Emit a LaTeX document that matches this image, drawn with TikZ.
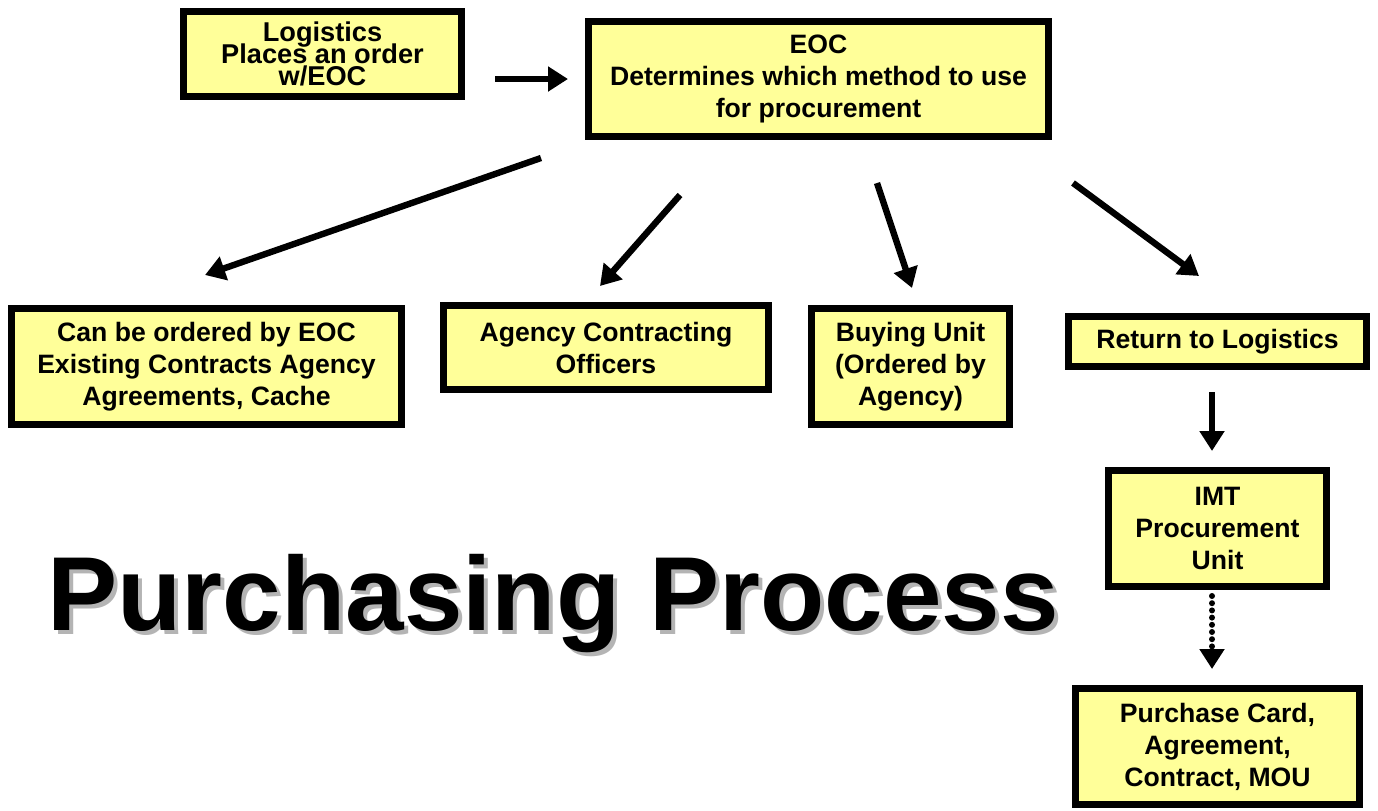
\documentclass[tikz,border=0pt]{standalone}
\usepackage{fontspec}
\setmainfont{Liberation Sans}
\usetikzlibrary{arrows.meta}
\definecolor{boxfill}{HTML}{FFFF99}
\definecolor{shadowgray}{HTML}{B4B4B4}
\begin{document}
\begin{tikzpicture}[x=0.5pt,y=-0.5pt,
  box/.style={draw=black, line width=3.5pt, fill=boxfill, inner sep=0pt,
    align=center, font=\bfseries\fontsize{13.3}{16}\selectfont},
  tightbox/.style={box, font=\bfseries\fontsize{13.6}{16}\selectfont},
  arr/.style={line width=3.2pt, -{Triangle[length=10pt,width=12pt]}},
  dotarr/.style={line width=3pt, line cap=round, dash pattern=on 0pt off 3.6pt,
    -{Triangle[length=10pt,width=12pt]}},
  titletext/.style={anchor=base west, inner sep=0pt,
    font=\bfseries\fontsize{52.6}{60}\selectfont},
]
\useasboundingbox (0,0) rectangle (1378,810);

% boxes
\node[tightbox, minimum width=139pt, minimum height=42.5pt]
  (log) at (322.5,54) {Logistics\\[-5pt]Places an order\\[-5pt]w/EOC};
\node[box, minimum width=230pt, minimum height=57.5pt] (eoc) at (818.5,79)
  {EOC\\Determines which method to use\\for procurement};
\node[box, minimum width=195pt, minimum height=58pt] (can) at (206.5,366.5)
  {Can be ordered by EOC\\Existing Contracts Agency\\Agreements, Cache};
\node[box, minimum width=162.5pt, minimum height=42pt] (aco) at (606,347.5)
  {Agency Contracting\\Officers};
\node[box, minimum width=99pt, minimum height=58pt] (buy) at (910.5,366.5)
  {Buying Unit\\(Ordered by\\Agency)};
\node[box, minimum width=149pt, minimum height=25pt] (ret) at (1217.5,341.5)
  {Return to Logistics};
\node[box, minimum width=109pt, minimum height=58pt] (imt) at (1217.5,528.5)
  {IMT\\Procurement\\Unit};
\node[box, minimum width=142pt, minimum height=58pt] (pc) at (1217.5,746.5)
  {Purchase Card,\\Agreement,\\Contract, MOU};

% connector end points (arrows float between the boxes)
\coordinate (a1s) at (495,79);   \coordinate (a1e) at (568,79);
\coordinate (a2s) at (541,158);  \coordinate (a2e) at (205,275);
\coordinate (a3s) at (680,195);  \coordinate (a3e) at (600,286);
\coordinate (a4s) at (877,183);  \coordinate (a4e) at (912,288);
\coordinate (a5s) at (1073,183); \coordinate (a5e) at (1199,276);
\coordinate (a6s) at (1212,392); \coordinate (a6e) at (1212,451);
\coordinate (a7s) at (1212,596); \coordinate (a7e) at (1212,669);

\draw[arr] (a1s) -- (a1e);
\draw[arr] (a2s) -- (a2e);
\draw[arr] (a3s) -- (a3e);
\draw[arr] (a4s) -- (a4e);
\draw[arr] (a5s) -- (a5e);
\draw[arr] (a6s) -- (a6e);
\draw[dotarr] (a7s) -- (a7e);

% title with drop shadow
\node[titletext, text=shadowgray] (titleshadow) at (51,634) {Purchasing Process};
\node[titletext] (title) at (47,630) {Purchasing Process};
\end{tikzpicture}
\end{document}
